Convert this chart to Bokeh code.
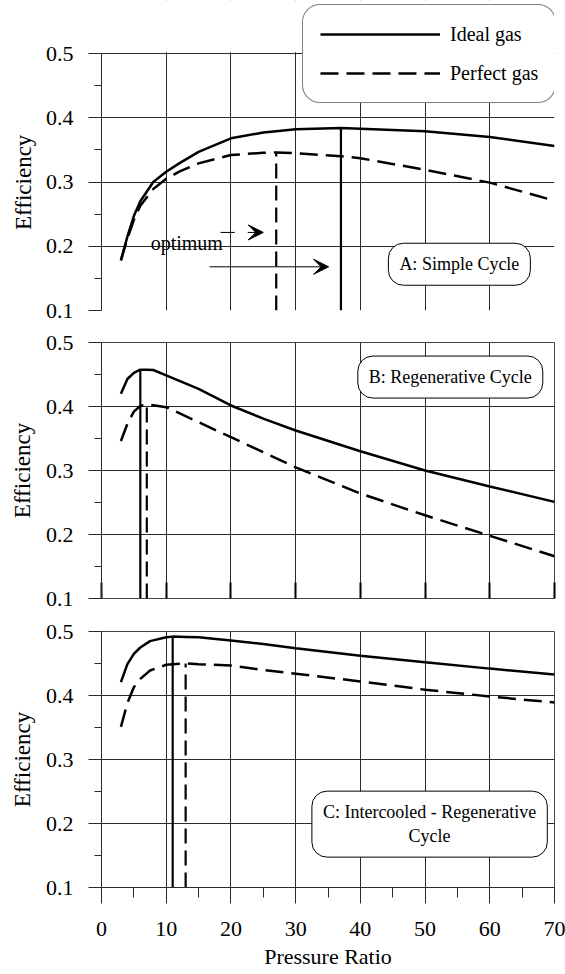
from bokeh.plotting import figure
from bokeh.layouts import column
from bokeh.models import (Range1d, FixedTicker, Legend, LegendItem, Label, Arrow,
                          VeeHead, PrintfTickFormatter, BoxAnnotation, Title)
from bokeh.embed import file_html
from bokeh.resources import INLINE

FONT = "Liberation Serif"

# ---------------- data ----------------
x_ticks = [0, 10, 20, 30, 40, 50, 60, 70]
x_minor = [5, 15, 25, 35, 45, 55, 65]
y_ticks = [0.1, 0.2, 0.3, 0.4, 0.5]
y_minor = [0.15, 0.25, 0.35, 0.45]

# A: Simple cycle
xa = [3, 4, 5, 6, 8, 10, 12, 15, 20, 25, 27, 30, 37, 40, 50, 60, 70]
ideal_a = [0.178, 0.215, 0.247, 0.270, 0.300, 0.316, 0.329, 0.347, 0.368, 0.377,
           0.379, 0.382, 0.384, 0.383, 0.379, 0.370, 0.356]
perfect_a = [0.178, 0.212, 0.241, 0.263, 0.289, 0.305, 0.316, 0.329, 0.342, 0.3455,
             0.346, 0.345, 0.340, 0.337, 0.319, 0.299, 0.271]

# B: Regenerative cycle
xb = [3, 4, 5, 6, 7, 8, 10, 15, 20, 25, 30, 40, 50, 60, 70]
ideal_b = [0.420, 0.443, 0.4526, 0.4576, 0.4575, 0.457, 0.4485, 0.4276, 0.4016,
           0.381, 0.3625, 0.330, 0.300, 0.275, 0.251]
perfect_b = [0.346, 0.373, 0.392, 0.401, 0.4032, 0.402, 0.399, 0.3755, 0.352,
             0.3286, 0.305, 0.264, 0.230, 0.198, 0.166]

# C: Intercooled - regenerative cycle
xc = [3, 4, 5, 6, 7.5, 10, 11, 13, 15, 20, 25, 30, 40, 50, 60, 70]
ideal_c = [0.421, 0.449, 0.465, 0.475, 0.485, 0.491, 0.492, 0.4915, 0.491, 0.486,
           0.4805, 0.474, 0.462, 0.452, 0.442, 0.433]
perfect_c = [0.351, 0.388, 0.413, 0.426, 0.439, 0.448, 0.449, 0.450, 0.449, 0.4467,
             0.440, 0.434, 0.422, 0.409, 0.3985, 0.389]

panel_titles = ["A: Simple Cycle", "B: Regenerative Cycle",
                "C: Intercooled - Regenerative\nCycle"]
series_names = ["Ideal gas", "Perfect gas"]
y_title = "Efficiency"
x_title = "Pressure Ratio"

X_LO, X_HI = 0, 70
Y_LO, Y_HI = 0.1, 0.5
SOLID_W = 2.5
DASH = "18 8"
DROP_DASH = "15 7"
W = 565


def make_panel(height, btop, bbottom, xs, ideal, perfect, xmode, y_hi_view=Y_HI,
               y_label=True):
    p = figure(width=W, height=height, x_range=Range1d(X_LO, X_HI),
               y_range=Range1d(Y_LO, y_hi_view), output_backend="svg",
               toolbar_location=None, min_border_left=101, min_border_right=11,
               min_border_top=btop, min_border_bottom=bbottom,
               background_fill_color="white", border_fill_color="white")
    p.outline_line_color = "#444444"
    p.outline_line_width = 1

    # grids
    p.xgrid[0].ticker = FixedTicker(ticks=x_ticks)
    p.ygrid[0].ticker = FixedTicker(ticks=y_ticks)
    for g in (p.xgrid[0], p.ygrid[0]):
        g.grid_line_color = "#2a2a2a"
        g.grid_line_width = 1

    # y axis
    ya = p.yaxis[0]
    ya.ticker = FixedTicker(ticks=y_ticks, minor_ticks=y_minor)
    ya.formatter = PrintfTickFormatter(format="%.1f")
    ya.bounds = (Y_LO, Y_HI)
    ya.major_tick_out = 13
    ya.major_tick_in = 0
    ya.minor_tick_out = 7
    ya.minor_tick_in = 0
    ya.major_tick_line_color = "#2a2a2a"
    ya.minor_tick_line_color = "#2a2a2a"
    ya.axis_line_color = "#2a2a2a"
    ya.major_label_standoff = 15
    ya.major_label_text_font = FONT
    ya.major_label_text_font_size = "22px"
    ya.major_label_text_color = "black"
    if y_label:
        ya.axis_label = y_title
        ya.axis_label_text_font = FONT
        ya.axis_label_text_font_size = "23px"
        ya.axis_label_text_font_style = "normal"
        ya.axis_label_text_color = "black"
        ya.axis_label_standoff = 8

    xa_ = p.xaxis[0]
    if xmode == "none":
        xa_.visible = False
    elif xmode == "inner":
        xa_.ticker = FixedTicker(ticks=x_ticks, minor_ticks=[])
        xa_.major_tick_in = 16
        xa_.major_tick_out = 0
        xa_.major_tick_line_width = 2
        xa_.major_tick_line_color = "black"
        xa_.minor_tick_in = 0
        xa_.minor_tick_out = 0
        xa_.axis_line_color = None
        xa_.major_label_text_font_size = "1px"
        xa_.major_label_text_color = None
        xa_.major_label_standoff = 0
    else:
        xa_.ticker = FixedTicker(ticks=x_ticks, minor_ticks=x_minor)
        xa_.major_tick_out = 16
        xa_.major_tick_in = 0
        xa_.minor_tick_out = 10
        xa_.minor_tick_in = 0
        xa_.major_tick_line_color = "#2a2a2a"
        xa_.minor_tick_line_color = "#2a2a2a"
        xa_.axis_line_color = "#2a2a2a"
        xa_.major_label_standoff = 18
        xa_.major_label_text_font = FONT
        xa_.major_label_text_font_size = "22px"
        xa_.major_label_text_color = "black"
        xa_.axis_label = x_title
        xa_.axis_label_text_font = FONT
        xa_.axis_label_text_font_size = "22px"
        xa_.axis_label_text_font_style = "normal"
        xa_.axis_label_text_color = "black"
        xa_.axis_label_standoff = 5

    r_ideal = p.line(xs, ideal, line_color="black", line_width=SOLID_W)
    r_perf = p.line(xs, perfect, line_color="black", line_width=SOLID_W,
                    line_dash=DASH)

    # optimum drop lines at the maximum of each curve
    i_best = ideal.index(max(ideal))
    p_best = perfect.index(max(perfect))
    p.segment(x0=[xs[i_best]], y0=[Y_LO], x1=[xs[i_best]], y1=[ideal[i_best]],
              line_color="black", line_width=2.2)
    p.segment(x0=[xs[p_best]], y0=[Y_LO], x1=[xs[p_best]], y1=[perfect[p_best]],
              line_color="black", line_width=2.2, line_dash=DROP_DASH)
    return p, r_ideal, r_perf


def panel_label(p, text, x, y):
    kw = dict(x=x, y=y, text=text, text_align="center", text_baseline="middle",
              text_font=FONT, text_font_size="18px", text_color="black",
              border_line_color="black", border_line_width=1,
              background_fill_color="white")
    props = Label.properties()
    if "border_radius" in props:
        kw["border_radius"] = 15
    if "padding" in props:
        kw["padding"] = 11
    p.add_layout(Label(**kw))


# Panel A's frame reaches up to the top of the page so that the legend box,
# which overlaps the plot's top edge, is not clipped; the area above 0.5 is blank.
A_FRAME_PX = 310
A_SPAN_PX = 257
y_hi_a = Y_LO + (Y_HI - Y_LO) * A_FRAME_PX / A_SPAN_PX
Y_TITLE_LEN_PX = 96  # approximate length of the rotated "Efficiency" text

pA, ra_i, ra_p = make_panel(326, 0, 16, xa, ideal_a, perfect_a, "none", y_hi_a,
                            y_label=False)
pA.outline_line_color = None
pB, _, _ = make_panel(288, 16, 16, xb, ideal_b, perfect_b, "inner")
pC, _, _ = make_panel(360, 17, 87, xc, ideal_c, perfect_c, "full")

# y-axis title of panel A, centred on the 0.1-0.5 part of its taller frame
pA.add_layout(Title(text=y_title, align="left",
                    offset=(A_SPAN_PX - Y_TITLE_LEN_PX) / 2, standoff=13,
                    text_font=FONT, text_font_size="23px",
                    text_font_style="normal", text_color="black"), "left")

pA.add_layout(BoxAnnotation(bottom=Y_HI + 0.002, fill_color="white", fill_alpha=1.0,
                            line_color=None))

panel_label(pA, panel_titles[0], 55.3, 0.172)
panel_label(pB, panel_titles[1], 53.9, 0.446)
panel_label(pC, panel_titles[2], 50.7, 0.199)

# "optimum" annotation with arrows (panel A)
pA.add_layout(Label(x=7.6, y=0.205, text="optimum", text_align="left",
                    text_baseline="alphabetic", text_font=FONT,
                    text_font_size="20px", text_color="black"))
pA.add_layout(Arrow(end=None, x_start=18.4, y_start=0.2215, x_end=20.6,
                    y_end=0.2215, line_color="black", line_width=1))
pA.add_layout(Arrow(end=VeeHead(size=15, fill_color="black", line_color="black",
                                line_width=1),
                    x_start=22.6, y_start=0.2215, x_end=25.0, y_end=0.2215,
                    line_color="black", line_width=1))
pA.add_layout(Arrow(end=VeeHead(size=15, fill_color="black", line_color="black",
                                line_width=1),
                    x_start=16.7, y_start=0.168, x_end=35.1, y_end=0.168,
                    line_color="black", line_width=1))

legend = Legend(items=[LegendItem(label=series_names[0], renderers=[ra_i]),
                       LegendItem(label=series_names[1], renderers=[ra_p])],
                location=(201, 207), orientation="vertical",
                glyph_width=120, glyph_height=24, label_height=24,
                label_standoff=10, padding=17, spacing=15, margin=0,
                label_text_font=FONT, label_text_font_size="20px",
                label_text_color="black", border_line_color="black",
                border_line_width=1, background_fill_color="white",
                background_fill_alpha=1.0)
if "border_radius" in Legend.properties():
    legend.border_radius = 18
pA.add_layout(legend)

layout = column(pA, pB, pC, spacing=0)
open("out.html", "w").write(file_html(layout, INLINE))
